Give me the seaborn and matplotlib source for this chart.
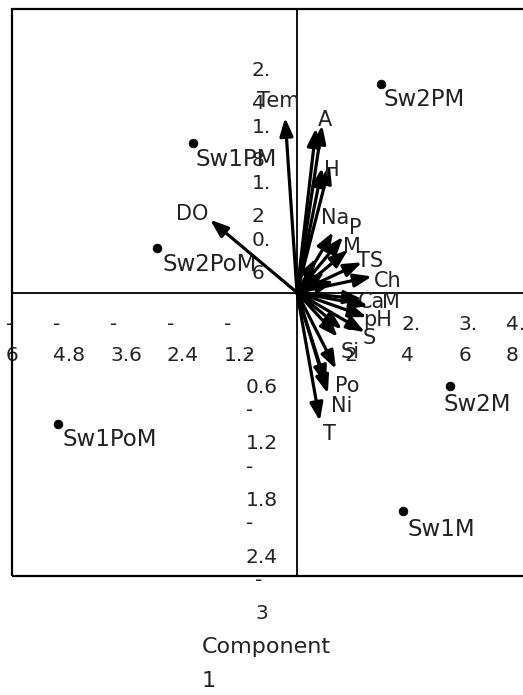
import matplotlib
matplotlib.use("Agg")
import matplotlib.pyplot as plt
import matplotlib.transforms as mtransforms
import seaborn as sns
import pandas as pd
from matplotlib.patches import Rectangle

sns.set_style("white")
plt.rcParams['font.family'] = ['DejaVu Sans']

# sample scores on the two components
SCORE_NAMES = ["Sw2PM", "Sw1PM", "Sw2PoM", "Sw1PoM", "Sw2M", "Sw1M"]
SCORE_PC1 = [1.77, -2.19, -2.95, -5.03, 3.22, 2.23]
SCORE_PC2 = [2.21, 1.58, 0.47, -1.39, -0.99, -2.31]
# label offsets from each dot, in points
SCORE_LABEL_OFFSETS = [(1.5, -11.5), (1.5, -11.5), (4, -11.5), (3, -11.5), (-5, -13), (3.5, -13.5)]

# variable loadings (arrows), "" = label hidden in the crowd
VAR_NAMES = ["Tem", "A", "", "H", "", "Na", "P", "M", "TS", "Ch", "", "", "",
             "Ca", "M", "pH", "S", "", "Si", "Po", "", "Ni", "T", "DO"]
VAR_PC1 = [-0.25, 0.53, 0.40, 0.69, 0.53, 0.76, 0.97, 1.07, 1.37, 1.58, 0.40, 0.58, 0.78,
           1.37, 1.50, 1.47, 1.43, 0.95, 0.86, 0.82, 0.61, 0.65, 0.48, -1.83]
VAR_PC2 = [1.85, 1.77, 1.74, 1.35, 1.32, 0.64, 0.59, 0.45, 0.32, 0.17, 0.36, 0.22, 0.12,
           -0.07, -0.14, -0.26, -0.42, -0.39, -0.47, -0.81, -0.97, -1.07, -1.36, 0.77]
# label offsets from the arrow tip, in points
VAR_LABEL_OFFSETS = [(-5, 12), (2, 4), (0, 0), (1.5, -3.6), (0, 0), (1.5, 10), (8.6, 6.5),
                     (3, 2), (6, 1), (11.5, -3.6), (0, 0), (0, 0), (0, 0),
                     (7, -2), (16, 3), (8, -2), (3, -4), (0, 0), (9, -11), (8, -12),
                     (0, 0), (10, -9), (7, -9), (-13, 4)]

XTICKS = [-6, -4.8, -3.6, -2.4, -1.2, 1.2, 2.4, 3.6, 4.8]
XTICK_LABELS = ["-\n6", "-\n4.8", "-\n3.6", "-\n2.4", "-\n1.2", "1.\n2", "2.\n4", "3.\n6", "4.\n8"]
YTICKS = [-3, -2.4, -1.8, -1.2, -0.6, 0.6, 1.2, 1.8, 2.4]
YTICK_LABELS = ["-\n3", "-\n2.4", "-\n1.8", "-\n1.2", "-\n0.6", "0.\n6", "1.\n2", "1.\n8", "2.\n4"]

df = pd.DataFrame({"name": SCORE_NAMES, "pc1": SCORE_PC1, "pc2": SCORE_PC2})

fig = plt.figure(figsize=(5.23, 6.95), dpi=100)
ax = fig.add_axes([12 / 523, 119 / 695, 513 / 523, 567 / 695])

sns.scatterplot(data=df, x="pc1", y="pc2", color="black", s=40, marker="o",
                edgecolor="black", ax=ax, zorder=5)
for name, x, y, off in zip(SCORE_NAMES, SCORE_PC1, SCORE_PC2, SCORE_LABEL_OFFSETS):
    ax.annotate(name, (x, y), xytext=off, textcoords="offset points",
                ha="left", va="center", fontsize=16.5, color="#222222")

for name, x, y, off in zip(VAR_NAMES, VAR_PC1, VAR_PC2, VAR_LABEL_OFFSETS):
    ax.annotate("", xy=(x, y), xytext=(0, 0),
                arrowprops=dict(arrowstyle="-|>,head_length=0.6,head_width=0.22",
                                lw=2.3, color="black", mutation_scale=18,
                                shrinkA=0, shrinkB=0))
    if name:
        ax.annotate(name, (x, y), xytext=off, textcoords="offset points",
                    ha="center", va="center", fontsize=15, color="#222222")

ax.set_xlim(-6, 4.8)
ax.set_ylim(-3, 3)

ax.spines["left"].set_position(("data", 0))
ax.spines["bottom"].set_position(("data", 0))
ax.spines["top"].set_visible(False)
ax.spines["right"].set_visible(False)
for s in ["left", "bottom"]:
    ax.spines[s].set_linewidth(1.3)
    ax.spines[s].set_color("black")
ax.add_patch(Rectangle((0, 0), 1, 1, transform=ax.transAxes, fill=False,
                       lw=1.6, edgecolor="black", clip_on=False, zorder=10))

ax.set_xticks(XTICKS)
ax.set_xticklabels(XTICK_LABELS, fontsize=14.5, linespacing=1.85,
                   ha="center", multialignment="left", color="#222222")
ax.get_xticklabels()[-1].set_ha("right")
ax.set_yticks(YTICKS)
ax.set_yticklabels(YTICK_LABELS, fontsize=14.5, linespacing=1.95,
                   ha="center", va="top", multialignment="left", color="#222222")
ax.tick_params(axis="both", direction="out", length=6.5, width=1.3, color="black")
ax.tick_params(axis="x", pad=9.5)
ax.tick_params(axis="y", pad=19)
# nudge y labels up a little
shift_up = mtransforms.ScaledTranslation(0, 3.5 / 72, fig.dpi_scale_trans)
for lbl in ax.get_yticklabels():
    lbl.set_transform(lbl.get_transform() + shift_up)
ax.set_xlabel("")
ax.set_ylabel("")

fig.text(202 / 523, 1 - 637 / 695, "Component\n1", ha="left", va="top",
         fontsize=16, linespacing=1.85, color="#222222")

fig.savefig("out.png", dpi=100)
